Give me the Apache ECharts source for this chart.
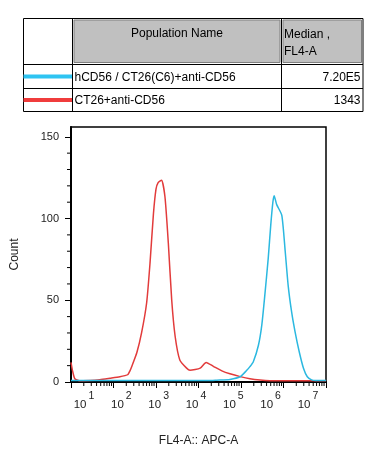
<!DOCTYPE html>
<html>
<head>
<meta charset="utf-8">
<script src="https://cdn.jsdelivr.net/npm/echarts@6/dist/echarts.min.js"></script>
<style>
html,body{margin:0;padding:0;background:#fff;}
#chart{width:372px;height:458px;}
</style>
</head>
<body>
<div id="chart"></div>
<script>
// ---- data ----
const xTickExponents = [1, 2, 3, 4, 5, 6, 7];
const yTickValues = [0, 50, 100, 150];
const populationNames = ['hCD56 / CT26(C6)+anti-CD56', 'CT26+anti-CD56'];
const medianValues = ['7.20E5', '1343'];
const headerLabels = ['Population Name', 'Median ,', 'FL4-A'];
const xAxisTitle = 'FL4-A:: APC-A';
const yAxisTitle = 'Count';

// x in log10 units of FL4-A, y = count
const redLog = [1.00, 1.035, 1.09, 1.2, 1.45, 1.68, 1.92, 2.15, 2.27, 2.34, 2.39, 2.43, 2.55, 2.66, 2.78, 2.86, 2.94, 3.00, 3.05, 3.13, 3.21, 3.29, 3.37, 3.45, 3.56, 3.72, 3.80, 4.04, 4.18, 4.35, 4.55, 4.74, 4.98, 5.21, 5.45, 5.68, 6.15, 6.86, 7.0];
const redCount = [12, 7, 2, 0.8, 0.9, 1.4, 2.3, 3.2, 3.9, 4.6, 7, 9.5, 18, 30, 48.5, 73, 103, 118, 122, 123.5, 113.5, 85, 50, 28, 13.5, 8.5, 7.2, 8.5, 12, 9.6, 6.8, 5.0, 3.3, 2.0, 1.2, 0.8, 0.7, 0.7, 0.7];
const cyanLog = [1.0, 4.3, 4.43, 4.74, 4.98, 5.13, 5.21, 5.29, 5.41, 5.49, 5.56, 5.64, 5.70, 5.75, 5.78, 5.84, 5.96, 6.04, 6.11, 6.19, 6.27, 6.37, 6.47, 6.56, 6.66, 6.76, 7.0];
const cyanCount = [0.9, 0.9, 1.1, 1.6, 3.2, 7, 9.4, 12.4, 22.5, 35, 53, 75.5, 96, 110, 114, 108.5, 102, 80, 59, 43, 31, 18.5, 8.4, 3.2, 1.3, 0.9, 0.9];

const RED = '#e23b3b';
const CYAN = '#2bb8e0';
const LEG_RED = '#f03c3c';
const LEG_CYAN = '#2ec4f2';
const FONT = '"Liberation Sans", Arial, sans-serif';

const redData = redLog.map((x, i) => [x, redCount[i]]);
const cyanData = cyanLog.map((x, i) => [x, cyanCount[i]]);

// minor ticks (axis decoration)
const xMinor = [];
for (let n = xTickExponents[0]; n < xTickExponents[xTickExponents.length - 1]; n++) {
  for (let k = 2; k <= 9; k++) xMinor.push([n + Math.log10(k), 0]);
}
const yMinor = [];
for (let v = 10; v < 150; v += 10) if (v % 50 !== 0) yMinor.push([1, v]);

const chart = echarts.init(document.getElementById('chart'), null, {renderer: 'canvas'});

const tick = (dir) => function (params, api) {
  const p = api.coord([api.value(0), api.value(1)]);
  const s = {stroke: '#000', lineWidth: 1};
  if (dir === 'x') return {type: 'line', shape: {x1: p[0], y1: p[1], x2: p[0], y2: p[1] + 4}, style: s};
  return {type: 'line', shape: {x1: p[0], y1: p[1], x2: p[0] - 4, y2: p[1]}, style: s};
};

const textStyle = (t, x, y, align, vAlign) => ({
  type: 'text', x: x, y: y,
  style: {text: t, fill: '#000', font: '12px ' + FONT, align: align, verticalAlign: vAlign || 'middle'}
});

const option = {
  animation: false,
  backgroundColor: '#fff',
  grid: {left: 71, top: 127, width: 255, height: 255, show: true, borderColor: '#000', borderWidth: 1.5, backgroundColor: 'transparent'},
  xAxis: [{
    type: 'value', min: 1, max: 7, interval: 1,
    axisLine: {show: true, onZero: false, lineStyle: {color: '#000', width: 2}},
    axisTick: {show: true, length: 6, lineStyle: {color: '#000', width: 1}},
    axisLabel: {show: false},
    splitLine: {show: false},
    name: xAxisTitle, nameLocation: 'middle', nameGap: 53,
    nameTextStyle: {color: '#222', fontSize: 12, fontFamily: FONT}
  }, {
    type: 'value', min: 0.651, max: 7.483, position: 'bottom', offset: 0,
    axisLine: {show: false}, axisTick: {show: false}, splitLine: {show: false},
    axisLabel: {
      show: true, customValues: xTickExponents, margin: 9,
      formatter: (v) => '{b|10}{s|' + v + '}',
      rich: {
        b: {fontSize: 11.5, fontFamily: FONT, color: '#222', lineHeight: 20, verticalAlign: 'bottom'},
        s: {fontSize: 10.5, fontFamily: FONT, color: '#222', lineHeight: 20, verticalAlign: 'top', padding: [0, 0, 0, 2]}
      }
    }
  }],
  yAxis: {
    type: 'value', min: 0, max: 156,
    axisLine: {show: true, onZero: false, lineStyle: {color: '#000', width: 2}},
    axisTick: {show: true, length: 6, customValues: yTickValues, lineStyle: {color: '#000', width: 1}},
    axisLabel: {customValues: yTickValues, margin: 12, fontSize: 11, fontFamily: FONT, color: '#222'},
    splitLine: {show: false},
    name: yAxisTitle, nameLocation: 'middle', nameGap: 50, nameRotate: 90,
    nameTextStyle: {color: '#222', fontSize: 12, fontFamily: FONT}
  },
  series: [
    {type: 'line', data: redData, showSymbol: false, smooth: 0.2, lineStyle: {color: RED, width: 1.5}, itemStyle: {color: RED}, z: 3},
    {type: 'line', data: cyanData, showSymbol: false, smooth: 0.2, lineStyle: {color: CYAN, width: 1.5}, itemStyle: {color: CYAN}, z: 4},
    {type: 'custom', data: xMinor, renderItem: tick('x'), clip: false, silent: true, z: 5},
    {type: 'custom', data: yMinor, renderItem: tick('y'), clip: false, silent: true, z: 5}
  ],
  graphic: [
    {type: 'rect', shape: {x: 23.5, y: 18.5, width: 339.5, height: 93}, style: {fill: '#fff', stroke: '#000', lineWidth: 1}},
    {type: 'rect', shape: {x: 74, y: 20, width: 206, height: 42.5}, style: {fill: '#c0c0c0', stroke: '#7f7f7f', lineWidth: 1}},
    {type: 'rect', shape: {x: 283, y: 20, width: 78.5, height: 42.5}, style: {fill: '#c0c0c0', stroke: '#7f7f7f', lineWidth: 1}},
    {type: 'line', shape: {x1: 72.5, y1: 18.5, x2: 72.5, y2: 111.5}, style: {stroke: '#000', lineWidth: 1}},
    {type: 'line', shape: {x1: 281.5, y1: 18.5, x2: 281.5, y2: 111.5}, style: {stroke: '#000', lineWidth: 1}},
    {type: 'line', shape: {x1: 23.5, y1: 64.5, x2: 363, y2: 64.5}, style: {stroke: '#000', lineWidth: 1}},
    {type: 'line', shape: {x1: 23.5, y1: 88.5, x2: 363, y2: 88.5}, style: {stroke: '#000', lineWidth: 1}},
    {type: 'line', shape: {x1: 23.5, y1: 76.5, x2: 72, y2: 76.5}, style: {stroke: LEG_CYAN, lineWidth: 4}},
    {type: 'line', shape: {x1: 23.5, y1: 100, x2: 72, y2: 100}, style: {stroke: LEG_RED, lineWidth: 4}},
    textStyle(headerLabels[0], 177, 33.5, 'center'),
    textStyle(headerLabels[1], 284, 35, 'left'),
    textStyle(headerLabels[2], 284, 51.5, 'left'),
    textStyle(populationNames[0], 74.5, 78, 'left'),
    textStyle(populationNames[1], 74.5, 100.5, 'left'),
    textStyle(medianValues[0], 360.5, 78, 'right'),
    textStyle(medianValues[1], 360.5, 100.5, 'right')
  ]
};
chart.setOption(option);
</script>
</body>
</html>
